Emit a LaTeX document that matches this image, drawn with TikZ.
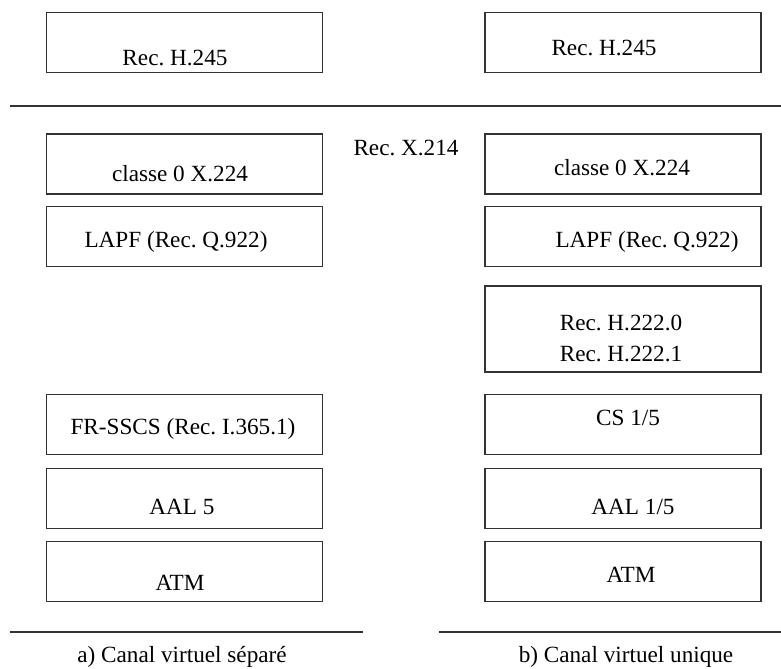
\documentclass[tikz,border=0pt]{standalone}
\usepackage{fontspec}
\setmainfont{Liberation Serif}
\frenchspacing
\begin{document}
\begin{tikzpicture}[
    every node/.style={font=\fontsize{13.2}{17.6}\selectfont, align=center, inner sep=0pt},
    layer/.style={draw=black!80, line width=0.7pt, minimum width=5.52cm, minimum height=1.2cm},
    sep/.style={draw=black!80, line width=0.7pt},
  ]
  \useasboundingbox (0,0) rectangle (15.62,-13.36);

  % === Left stack: separate virtual channel ===
  \node[layer] (lh245) at (3.69, -0.85)  {};
  \node[layer] (lx224) at (3.69, -3.28)  {};
  \node[layer] (llapf) at (3.69, -4.73)  {};
  \node[layer] (lsscs) at (3.69, -8.49)  {};
  \node[layer] (laal)  at (3.69, -9.97)  {};
  \node[layer] (latm)  at (3.69, -11.43) {};

  \node (lh245t) at (3.5, -1.16)   {Rec. H.245};
  \node (lx224t) at (3.6, -3.48)   {classe 0 X.224};
  \node (llapft) at (3.52, -4.84)  {LAPF (Rec. Q.922)};
  \node (lsscst) at (3.66, -8.58)  {FR-SSCS (Rec. I.365.1)};
  \node (laalt)  at (3.64, -10.14) {AAL 5};
  \node (latmt)  at (3.6, -11.66)  {ATM};

  % === Right stack: single virtual channel ===
  \node[layer] (rh245) at (12.46, -0.85)  {};
  \node[layer] (rx224) at (12.46, -3.28)  {};
  \node[layer] (rlapf) at (12.46, -4.73)  {};
  \node[layer, minimum height=1.72cm] (rh222) at (12.46, -6.58) {};
  \node[layer] (rcs)   at (12.46, -8.49)  {};
  \node[layer] (raal)  at (12.46, -9.97)  {};
  \node[layer] (ratm)  at (12.46, -11.43) {};

  \node (rh245t) at (12.08, -0.96)  {Rec. H.245};
  \node (rx224t) at (12.44, -3.36)  {classe 0 X.224};
  \node (rlapft) at (12.94, -4.84)  {LAPF (Rec. Q.922)};
  \node (rh222t) at (12.42, -6.76)  {Rec. H.222.0\\Rec. H.222.1};
  \node (rcst)   at (12.56, -8.36)  {CS 1/5};
  \node (raalt)  at (12.66, -10.14) {AAL 1/5};
  \node (ratmt)  at (12.62, -11.5)  {ATM};

  % === Middle label and rules ===
  \node (x214) at (8.12, -2.96) {Rec. X.214};

  \coordinate (topl) at (0.2, -2.12);
  \coordinate (topr) at (15.62, -2.12);
  \draw[sep] (topl) -- (topr);

  \coordinate (botal) at (0.2, -12.64);
  \coordinate (botar) at (7.26, -12.64);
  \coordinate (botbl) at (8.78, -12.64);
  \coordinate (botbr) at (15.62, -12.64);
  \draw[sep] (botal) -- (botar);
  \draw[sep] (botbl) -- (botbr);

  % === Captions ===
  \node (capa) at (3.64, -13.14)  {a) Canal virtuel séparé};
  \node (capb) at (12.52, -13.14) {b) Canal virtuel unique};

\end{tikzpicture}
\end{document}
